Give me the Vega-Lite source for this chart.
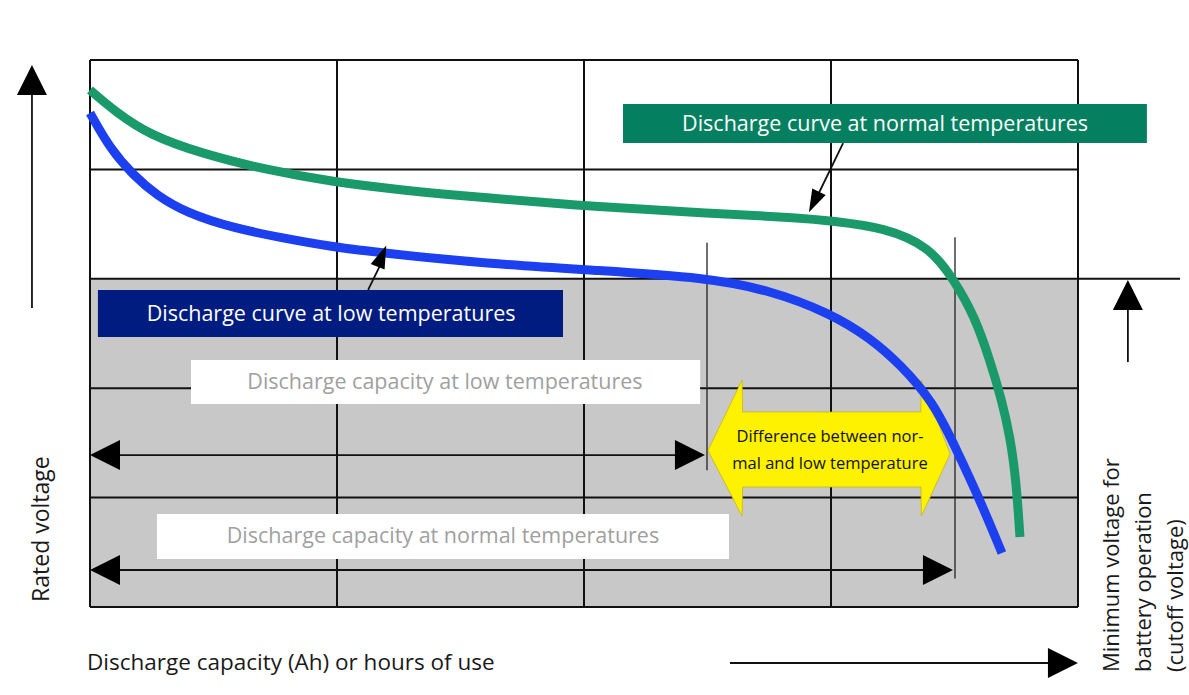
{
  "$schema": "https://vega.github.io/schema/vega-lite/v6.json",
  "width": 1189,
  "height": 695,
  "autosize": {"type": "none"},
  "padding": 0,
  "background": "white",
  "config": {"view": {"stroke": null}, "text": {"font": "Open Sans"}},
  "datasets": {
    "shade": [{"x": 0, "x2": 4, "y": 0, "y2": 3}],
    "grid": [
      {"x": 0, "x2": 0, "y": 0, "y2": 5},
      {"x": 1, "x2": 1, "y": 0, "y2": 5},
      {"x": 2, "x2": 2, "y": 0, "y2": 5},
      {"x": 3, "x2": 3, "y": 0, "y2": 5},
      {"x": 4, "x2": 4, "y": 0, "y2": 5},
      {"x": 0, "x2": 4, "y": 0, "y2": 0},
      {"x": 0, "x2": 4, "y": 1, "y2": 1},
      {"x": 0, "x2": 4, "y": 2, "y2": 2},
      {"x": 0, "x2": 4.413, "y": 3, "y2": 3},
      {"x": 0, "x2": 4, "y": 4, "y2": 4},
      {"x": 0, "x2": 4, "y": 5, "y2": 5}
    ],
    "markers": [
      {"x": 2.498, "x2": 2.498, "y": 1.25, "y2": 3.33},
      {"x": 3.502, "x2": 3.502, "y": 0.26, "y2": 3.38}
    ],
    "shafts": [
      {"x": -0.235, "x2": -0.235, "y": 2.733, "y2": 4.70},
      {"x": 4.202, "x2": 4.202, "y": 2.239, "y2": 2.80},
      {"x": 2.591, "x2": 3.90, "y": -0.512, "y2": -0.512},
      {"x": 0.06, "x2": 2.44, "y": 1.389, "y2": 1.389},
      {"x": 0.06, "x2": 3.44, "y": 0.338, "y2": 0.338},
      {"x": 3.049, "x2": 2.947, "y": 4.241, "y2": 3.766},
      {"x": 1.126, "x2": 1.174, "y": 2.898, "y2": 3.12}
    ],
    "heads": [
      {"x": -0.235, "y": 4.817, "dir": "up"},
      {"x": 4.202, "y": 2.852, "dir": "up"},
      {"x": 3.939, "y": -0.512, "dir": "right"},
      {"x": 2.429, "y": 1.389, "dir": "right"},
      {"x": 3.433, "y": 0.338, "dir": "right"},
      {"x": 0.0607, "y": 1.389, "dir": "left"},
      {"x": 0.0607, "y": 0.338, "dir": "left"}
    ],
    "leaderGreen": [{"x": 2.931, "y": 3.702}],
    "leaderBlue": [{"x": 1.182, "y": 3.208}],
    "yellow": [
      {"x": 2.502, "y": 1.43, "y2": 1.43},
      {"x": 2.640, "y": 2.075, "y2": 0.832},
      {"x": 2.642, "y": 1.782, "y2": 1.097},
      {"x": 3.364, "y": 1.782, "y2": 1.097},
      {"x": 3.366, "y": 2.075, "y2": 0.832},
      {"x": 3.482, "y": 1.40, "y2": 1.40}
    ],
    "yellowText": [{"x": 2.996, "y": 1.554, "label": "Difference between nor-\nmal and low temperature"}],
    "curves": [
      {"series": "normal", "x": 0, "y": 4.726},
      {"series": "normal", "x": 0.109, "y": 4.516},
      {"series": "normal", "x": 0.243, "y": 4.314},
      {"series": "normal", "x": 0.445, "y": 4.150},
      {"series": "normal", "x": 0.717, "y": 3.994},
      {"series": "normal", "x": 0.984, "y": 3.885},
      {"series": "normal", "x": 1.255, "y": 3.812},
      {"series": "normal", "x": 1.6, "y": 3.74},
      {"series": "normal", "x": 2.065, "y": 3.656},
      {"series": "normal", "x": 2.5, "y": 3.60},
      {"series": "normal", "x": 2.891, "y": 3.556},
      {"series": "normal", "x": 2.996, "y": 3.530},
      {"series": "normal", "x": 3.219, "y": 3.470},
      {"series": "normal", "x": 3.401, "y": 3.291},
      {"series": "normal", "x": 3.498, "y": 2.989},
      {"series": "normal", "x": 3.583, "y": 2.650},
      {"series": "normal", "x": 3.644, "y": 2.250},
      {"series": "normal", "x": 3.690, "y": 1.900},
      {"series": "normal", "x": 3.725, "y": 1.560},
      {"series": "normal", "x": 3.750, "y": 1.150},
      {"series": "normal", "x": 3.765, "y": 0.640},
      {"series": "low", "x": 0, "y": 4.516},
      {"series": "low", "x": 0.081, "y": 4.190},
      {"series": "low", "x": 0.174, "y": 3.950},
      {"series": "low", "x": 0.271, "y": 3.760},
      {"series": "low", "x": 0.393, "y": 3.601},
      {"series": "low", "x": 0.579, "y": 3.464},
      {"series": "low", "x": 0.781, "y": 3.373},
      {"series": "low", "x": 0.984, "y": 3.291},
      {"series": "low", "x": 1.186, "y": 3.236},
      {"series": "low", "x": 1.6, "y": 3.14},
      {"series": "low", "x": 2.065, "y": 3.075},
      {"series": "low", "x": 2.494, "y": 3.010},
      {"series": "low", "x": 2.749, "y": 2.898},
      {"series": "low", "x": 2.996, "y": 2.687},
      {"series": "low", "x": 3.158, "y": 2.460},
      {"series": "low", "x": 3.279, "y": 2.220},
      {"series": "low", "x": 3.413, "y": 1.880},
      {"series": "low", "x": 3.510, "y": 1.430},
      {"series": "low", "x": 3.603, "y": 0.978},
      {"series": "low", "x": 3.692, "y": 0.494}
    ],
    "boxes": [
      {"style": "green", "x": 2.158, "x2": 4.279, "y": 4.598, "y2": 4.241},
      {"style": "navy", "x": 0.032, "x2": 1.915, "y": 2.898, "y2": 2.468},
      {"style": "white", "x": 0.409, "x2": 2.470, "y": 2.258, "y2": 1.856},
      {"style": "white", "x": 0.271, "x2": 2.587, "y": 0.850, "y2": 0.439}
    ],
    "boxTexts": [
      {"style": "green", "x": 3.219, "y": 4.405, "label": "Discharge curve at normal temperatures"},
      {"style": "navy", "x": 0.976, "y": 2.669, "label": "Discharge curve at low temperatures"},
      {"style": "white", "x": 1.437, "y": 2.048, "label": "Discharge capacity at low temperatures"},
      {"style": "white", "x": 1.429, "y": 0.637, "label": "Discharge capacity at normal temperatures"}
    ],
    "yTitle": [{"x": -0.194, "y": 0.712, "label": "Rated voltage"}],
    "xTitle": [{"x": -0.012, "y": -0.512, "label": "Discharge capacity (Ah) or hours of use"}],
    "cutoff": [{"x": 4.138, "y": -0.594, "label": "Minimum voltage for\nbattery operation\n(cutoff voltage)"}]
  },
  "encoding": {
    "x": {"field": "x", "type": "quantitative", "scale": {"domain": [-0.3644, 4.4494], "nice": false, "zero": false}, "axis": null},
    "y": {"field": "y", "type": "quantitative", "scale": {"domain": [-0.8044, 5.5484], "nice": false, "zero": false}, "axis": null}
  },
  "layer": [
    {
      "data": {"name": "shade"},
      "mark": {"type": "rect", "fill": "#c8c8c8"},
      "encoding": {"x2": {"field": "x2"}, "y2": {"field": "y2"}}
    },
    {
      "data": {"name": "grid"},
      "mark": {"type": "rule", "color": "#111111", "strokeWidth": 2},
      "encoding": {"x2": {"field": "x2"}, "y2": {"field": "y2"}}
    },
    {
      "data": {"name": "markers"},
      "mark": {"type": "rule", "color": "#222222", "strokeWidth": 1.3},
      "encoding": {"x2": {"field": "x2"}, "y2": {"field": "y2"}}
    },
    {
      "data": {"name": "shafts"},
      "mark": {"type": "rule", "color": "#111111", "strokeWidth": 1.8},
      "encoding": {"x2": {"field": "x2"}, "y2": {"field": "y2"}}
    },
    {
      "data": {"name": "heads"},
      "mark": {"type": "point", "filled": true, "fill": "#000000", "stroke": null, "opacity": 1, "size": 900},
      "encoding": {
        "shape": {"field": "dir", "type": "nominal", "legend": null,
          "scale": {"domain": ["up", "down", "left", "right"],
                    "range": ["M0,-1L1,1L-1,1Z", "M0,1L1,-1L-1,-1Z", "M-1,0L1,-1L1,1Z", "M1,0L-1,-1L-1,1Z"]}}
      }
    },
    {
      "data": {"name": "yellow"},
      "mark": {"type": "area", "color": "#fff200", "opacity": 1, "stroke": "#c9b800", "strokeWidth": 0.8},
      "encoding": {"y2": {"field": "y2"}}
    },
    {
      "data": {"name": "curves"},
      "mark": {"type": "line", "strokeWidth": 9, "interpolate": "basis", "strokeCap": "butt"},
      "encoding": {
        "color": {"field": "series", "type": "nominal", "legend": null,
          "scale": {"domain": ["normal", "low"], "range": ["#1a9a6a", "#1c3ff0"]}}
      }
    },
    {
      "data": {"name": "yellowText"},
      "mark": {"type": "text", "fontSize": 16.5, "fontWeight": 500, "color": "#111111", "lineBreak": "\n", "lineHeight": 27, "align": "center", "baseline": "middle"},
      "encoding": {"text": {"field": "label"}}
    },
    {
      "data": {"name": "boxes"},
      "mark": {"type": "rect", "opacity": 1},
      "encoding": {
        "x2": {"field": "x2"}, "y2": {"field": "y2"},
        "fill": {"field": "style", "type": "nominal", "legend": null,
          "scale": {"domain": ["green", "navy", "white"], "range": ["#048060", "#001c80", "#ffffff"]}}
      }
    },
    {
      "data": {"name": "boxTexts"},
      "transform": [{"filter": "datum.style !== 'white'"}],
      "mark": {"type": "text", "fontSize": 21.5, "align": "center", "baseline": "middle", "color": "#ffffff"},
      "encoding": {"text": {"field": "label"}}
    },
    {
      "data": {"name": "boxTexts"},
      "transform": [{"filter": "datum.style === 'white'"}],
      "mark": {"type": "text", "fontSize": 21.5, "align": "center", "baseline": "middle", "color": "#a0a0a0"},
      "encoding": {"text": {"field": "label"}}
    },
    {
      "data": {"name": "leaderGreen"},
      "mark": {"type": "point", "filled": true, "fill": "#000000", "stroke": null, "opacity": 1, "size": 529, "angle": 206, "shape": "M0,-1L0.65,1L-0.65,1Z"}
    },
    {
      "data": {"name": "leaderBlue"},
      "mark": {"type": "point", "filled": true, "fill": "#000000", "stroke": null, "opacity": 1, "size": 529, "angle": 22, "shape": "M0,-1L0.65,1L-0.65,1Z"}
    },
    {
      "data": {"name": "yTitle"},
      "mark": {"type": "text", "fontSize": 23, "angle": 270, "align": "center", "baseline": "middle", "color": "#1a1a1a"},
      "encoding": {"text": {"field": "label"}}
    },
    {
      "data": {"name": "xTitle"},
      "mark": {"type": "text", "fontSize": 22.5, "align": "left", "baseline": "middle", "color": "#1a1a1a"},
      "encoding": {"text": {"field": "label"}}
    },
    {
      "data": {"name": "cutoff"},
      "mark": {"type": "text", "fontSize": 22, "angle": 270, "align": "left", "baseline": "middle", "lineBreak": "\n", "lineHeight": 32, "color": "#1a1a1a"},
      "encoding": {"text": {"field": "label"}}
    }
  ]
}
